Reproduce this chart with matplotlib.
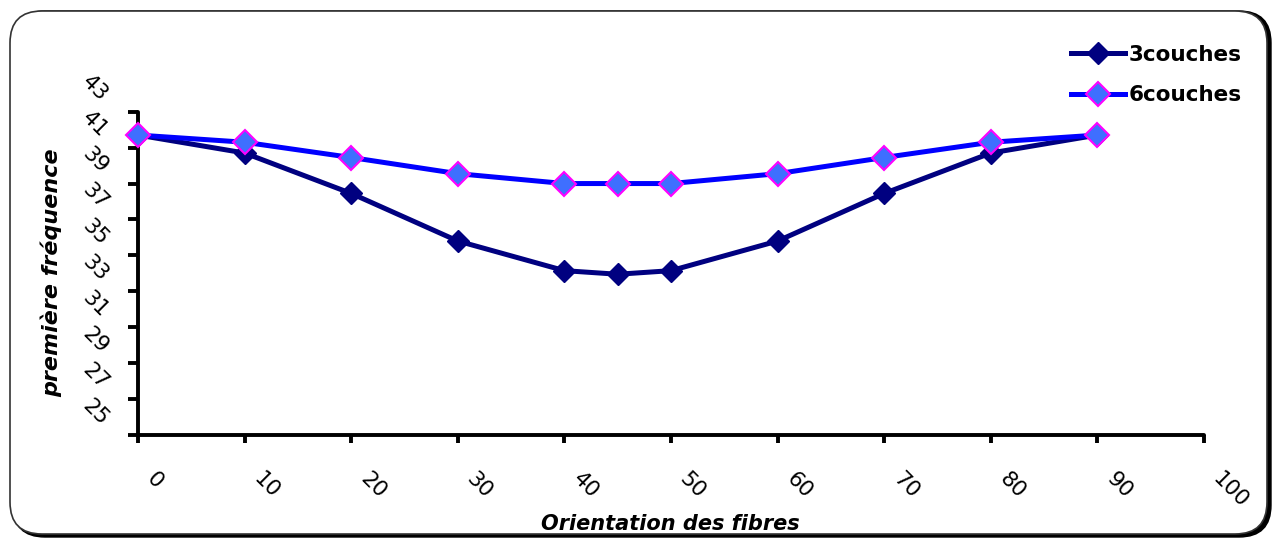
import matplotlib
matplotlib.use("Agg")
import matplotlib.pyplot as plt
from matplotlib.patches import FancyBboxPatch
from matplotlib.transforms import ScaledTranslation

angles = [0, 10, 20, 30, 40, 45, 50, 60, 70, 80, 90]
freq_3couches = [41.7, 40.7, 38.45, 35.8, 34.15, 33.95, 34.15, 35.8, 38.45, 40.7, 41.7]
freq_6couches = [41.7, 41.3, 40.45, 39.55, 39.0, 39.0, 39.0, 39.55, 40.45, 41.3, 41.7]
x_ticks = [0, 10, 20, 30, 40, 50, 60, 70, 80, 90, 100]
y_ticks = [25, 27, 29, 31, 33, 35, 37, 39, 41, 43]

W, H = 1276, 543
fig = plt.figure(figsize=(W / 100, H / 100), dpi=100)

# border with shadow
shadow = FancyBboxPatch((13 / W, 6 / H), 1258 / W, 526 / H,
                        boxstyle="round,pad=0,rounding_size=0.025",
                        transform=fig.transFigure, facecolor="black",
                        edgecolor="black", lw=1, zorder=-3, mutation_aspect=W / H)
frame = FancyBboxPatch((10 / W, 9 / H), 1257 / W, 523 / H,
                       boxstyle="round,pad=0,rounding_size=0.025",
                       transform=fig.transFigure, facecolor="white",
                       edgecolor="#333333", lw=1.2, zorder=-2, mutation_aspect=W / H)
fig.patches.extend([shadow, frame])

ax = fig.add_axes([138 / W, (H - 435) / H, (1204 - 138) / W, (435 - 111.7) / H])
ax.set_zorder(1)
ax.patch.set_alpha(0)

ax.plot(angles, freq_3couches, color="#000080", lw=3.6, marker="D", ms=11,
        markerfacecolor="#000080", markeredgecolor="#000080", label="3couches",
        clip_on=False, zorder=3)
ax.plot(angles, freq_6couches, color="#0000FF", lw=3.6, marker="D", ms=12,
        markerfacecolor="#3F6FFF", markeredgecolor="#FF00FF", markeredgewidth=1.5,
        label="6couches", clip_on=False, zorder=4)

ax.set_xlim(0, 100)
ax.set_ylim(25, 43)
for s in ["top", "right"]:
    ax.spines[s].set_visible(False)
for s in ["left", "bottom"]:
    ax.spines[s].set_linewidth(2.8)
    ax.spines[s].set_capstyle("round")

ax.set_xticks(x_ticks)
ax.set_yticks(y_ticks)
ax.set_xticklabels([str(v) for v in x_ticks])
ax.set_yticklabels([str(v) for v in y_ticks])
ax.tick_params(axis="both", direction="out", width=2.8, color="black")
ax.tick_params(axis="x", length=6, pad=23)
ax.tick_params(axis="y", length=7, pad=24)

for lbl in ax.get_xticklabels():
    lbl.set_rotation(-45)
    lbl.set_ha("left")
    lbl.set_va("center")
    lbl.set_rotation_mode("anchor")
    lbl.set_fontsize(15.5)
    lbl.set_transform(lbl.get_transform() + ScaledTranslation(0.12, 0, fig.dpi_scale_trans))
for lbl in ax.get_yticklabels():
    lbl.set_rotation(-45)
    lbl.set_ha("center")
    lbl.set_va("center")
    lbl.set_fontsize(15.5)
    lbl.set_transform(lbl.get_transform() + ScaledTranslation(0, 0.23, fig.dpi_scale_trans))

fig.text(670 / W, (H - 524) / H, "Orientation des fibres", ha="center", va="center",
         fontsize=15, fontweight="bold", fontstyle="italic")
fig.text(51 / W, (H - 273) / H, "première fréquence", ha="center", va="center",
         rotation=90, fontsize=16, fontweight="bold", fontstyle="italic")

leg = fig.legend(loc="upper left", bbox_to_anchor=(1071 / W, (H - 45) / H),
                 frameon=False, prop={"size": 15.5, "weight": "bold"},
                 handlelength=2.5, handletextpad=0.2, labelspacing=0.95,
                 borderaxespad=0, borderpad=0)

fig.savefig("out.png", dpi=100)
